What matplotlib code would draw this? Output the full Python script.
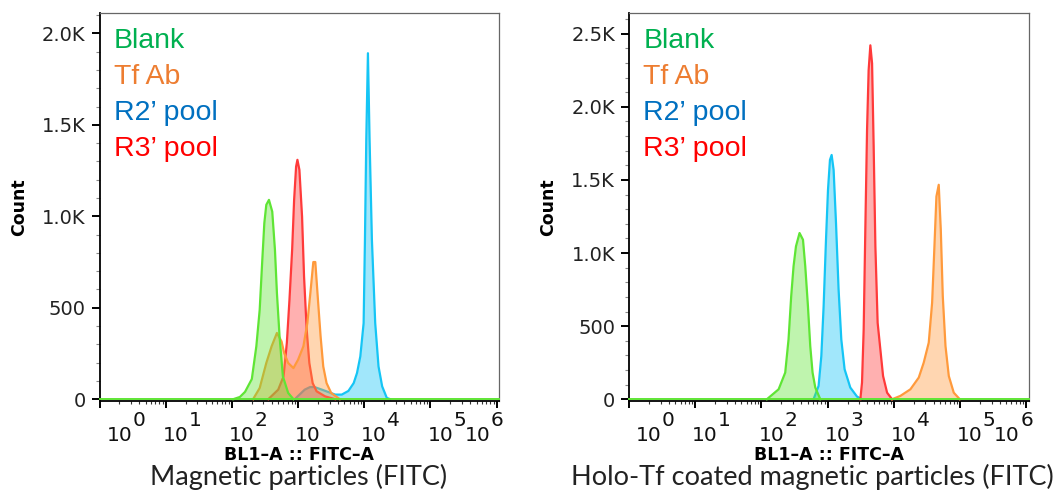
import numpy as np
import matplotlib
matplotlib.use("Agg")
import matplotlib.pyplot as plt
from matplotlib.ticker import FixedLocator, NullFormatter, LogLocator

# FITC intensity vs. event count, read per population

# --- magnetic particles ---
mag_blank_fitc = [105, 132, 158, 200, 234, 263, 288, 309, 331, 363, 407, 447, 479, 525, 589, 708, 851]
mag_blank_count = [0, 12, 40, 110, 289, 489, 762, 963, 1063, 1090, 1026, 817, 580, 343, 125, 34, 0]

mag_tfab_fitc = [209, 263, 331, 398, 479, 562, 617, 708, 851, 1000, 1202, 1380, 1549, 1698, 1820, 1995,
                 2188, 2399, 2692, 3162, 4266]
mag_tfab_count = [0, 61, 198, 289, 362, 316, 252, 198, 170, 216, 289, 416, 598, 750, 750, 544,
                  343, 179, 88, 34, 0]

mag_r2_fitc = [891, 1259, 1514, 1778, 2291, 2818, 3631, 4571, 5754, 6918, 7762, 8710, 9772, 10233,
               10715, 11350, 12023, 13032, 14622, 16406, 18621, 21878, 24547]
mag_r2_count = [0, 52, 66, 66, 52, 40, 25, 25, 45, 88, 143, 234, 416, 872,
                1418, 1892, 1418, 872, 416, 179, 70, 7, 0]

mag_r3_fitc = [355, 501, 603, 676, 741, 813, 871, 933, 977, 1047, 1148, 1230, 1349, 1479, 1660, 1905,
               2570, 3631]
mag_r3_count = [0, 52, 125, 307, 544, 817, 1090, 1272, 1309, 1254, 999, 671, 380, 198, 88, 43,
                15, 0]

# --- holo-Tf coated magnetic particles ---
holo_blank_fitc = [121, 182, 229, 257, 282, 306, 333, 377, 425, 460, 505, 547, 593, 652, 776]
holo_blank_count = [0, 68, 182, 409, 705, 909, 1046, 1137, 1091, 909, 636, 364, 182, 80, 0]

holo_tfab_fitc = [9419, 12589, 17824, 23823, 28314, 33729, 37931, 41115, 44055, 47753, 51286,
                  54954, 60395, 67764, 80538, 99312]
holo_tfab_count = [0, 23, 68, 148, 250, 387, 660, 1046, 1387, 1467, 1160,
                   705, 364, 159, 45, 0]

holo_r2_fitc = [614, 731, 804, 871, 946, 1014, 1086, 1151, 1233, 1340, 1466, 1611, 1807, 2203, 2786, 3311]
holo_r2_count = [0, 91, 295, 636, 1091, 1432, 1637, 1671, 1569, 1205, 750, 409, 205, 80, 18, 0]

holo_r3_fitc = [3126, 3311, 3508, 3715, 3945, 4169, 4426, 4699, 4966, 5272, 5702, 6266, 6887, 7925, 9419]
holo_r3_count = [0, 114, 477, 1160, 1842, 2251, 2421, 2297, 1728, 1046, 523, 341, 159, 45, 0]

legend_names = ["Blank", "Tf Ab", "R2\u2019 pool", "R3\u2019 pool"]
legend_colors = ["#00B050", "#ED7D31", "#0070C0", "#FF0000"]

# line colours for the histograms (blank, tf ab, r2, r3)
hist_colors = ["#5FE535", "#FF9A3C", "#15C5F5", "#FF3A3A"]
hist_z = [5, 4, 2, 3]

mag_yticks = [0, 500, 1000, 1500, 2000]
mag_ylabels = ["0", "500", "1.0K", "1.5K", "2.0K"]
holo_yticks = [0, 500, 1000, 1500, 2000, 2500]
holo_ylabels = ["0", "500", "1.0K", "1.5K", "2.0K", "2.5K"]

decades = [0, 1, 2, 3, 4, 5, 6]
base_dx = [7, -3, -3, -3, -3, -3, -32]


def draw_panel(ax, series, ylim, yticks, ylabels, title, title_x):
    for (x, y), col, z in zip(series, hist_colors, hist_z):
        ax.fill_between(x, y, 0, color=col, alpha=0.4, lw=0, zorder=z)
        ax.plot(x, y, color=col, lw=1.6, zorder=z + 0.5, solid_joinstyle="round")
    ax.axhline(0, color=hist_colors[0], lw=1.4, zorder=6, clip_on=False)

    ax.set_xscale("log")
    ax.set_xlim(1, 10 ** 6.035)
    ax.set_ylim(*ylim)

    ax.xaxis.set_major_locator(FixedLocator([10.0 ** k for k in decades]))
    ax.xaxis.set_minor_locator(LogLocator(base=10, subs=np.arange(2, 10), numticks=20))
    ax.xaxis.set_major_formatter(NullFormatter())
    ax.xaxis.set_minor_formatter(NullFormatter())
    ax.tick_params(axis="x", which="major", direction="out", length=5, width=1.4, color="black")
    ax.tick_params(axis="x", which="minor", direction="out", length=2.5, width=0.8, color="#333333")

    ax.yaxis.set_major_locator(FixedLocator(yticks))
    ax.yaxis.set_minor_locator(FixedLocator(np.arange(0, ylim[1], 100)))
    ax.set_yticklabels(ylabels, fontsize=14, color="#222222")
    ax.tick_params(axis="y", which="major", direction="out", length=6, width=1.4, pad=4)
    ax.tick_params(axis="y", which="minor", direction="out", length=3, width=0.8, color="#888888")

    for s in ("top", "right"):
        ax.spines[s].set_color("#666666")
        ax.spines[s].set_linewidth(0.9)
    for s in ("left", "bottom"):
        ax.spines[s].set_color("black")
        ax.spines[s].set_linewidth(1.3)

    # 10^k labels, drawn as base + raised exponent
    xt = ax.get_xaxis_transform()
    for k, dx in zip(decades, base_dx):
        ax.annotate("10", xy=(10.0 ** k, 0), xycoords=xt, xytext=(dx, -40),
                    textcoords="offset pixels", ha="left", va="baseline",
                    fontsize=14.5, color="#111111", annotation_clip=False)
        ax.annotate(str(k), xy=(10.0 ** k, 0), xycoords=xt, xytext=(dx + 26, -25),
                    textcoords="offset pixels", ha="left", va="baseline",
                    fontsize=14.5, color="#111111", annotation_clip=False)

    ax.text(0.5, -0.152, "BL1\u2013A :: FITC\u2013A", transform=ax.transAxes, ha="center",
            va="baseline", fontsize=12.5, fontweight="bold", color="black")
    ax.text(-0.2015, 0.5, "Count", transform=ax.transAxes, rotation=90, ha="center",
            va="center", fontsize=12.5, fontweight="bold", color="black")

    for i, (name, col) in enumerate(zip(legend_names, legend_colors)):
        ax.text(0.036, 0.911 - i * 0.0935, name, transform=ax.transAxes, ha="left",
                va="baseline", fontsize=20.5, color=col, family="Liberation Sans")

    ax.figure.text(title_x, 0.017, title, ha="center", va="baseline",
                   fontsize=19.5, family="Lato", color="#222222")


fig = plt.figure(figsize=(10.58, 4.93), dpi=100)
ax1 = fig.add_axes([99.5 / 1058, 92 / 493, 399.5 / 1058, 388 / 493])
ax2 = fig.add_axes([629 / 1058, 92 / 493, 399.5 / 1058, 388 / 493])

draw_panel(ax1,
           [(mag_blank_fitc, mag_blank_count), (mag_tfab_fitc, mag_tfab_count),
            (mag_r2_fitc, mag_r2_count), (mag_r3_fitc, mag_r3_count)],
           (-10, 2112), mag_yticks, mag_ylabels,
           "Magnetic particles (FITC)", 298.5 / 1058)
draw_panel(ax2,
           [(holo_blank_fitc, holo_blank_count), (holo_tfab_fitc, holo_tfab_count),
            (holo_r2_fitc, holo_r2_count), (holo_r3_fitc, holo_r3_count)],
           (-12, 2642), holo_yticks, holo_ylabels,
           "Holo-Tf coated magnetic particles (FITC)", 812 / 1058)

fig.savefig("out.png", dpi=100)
